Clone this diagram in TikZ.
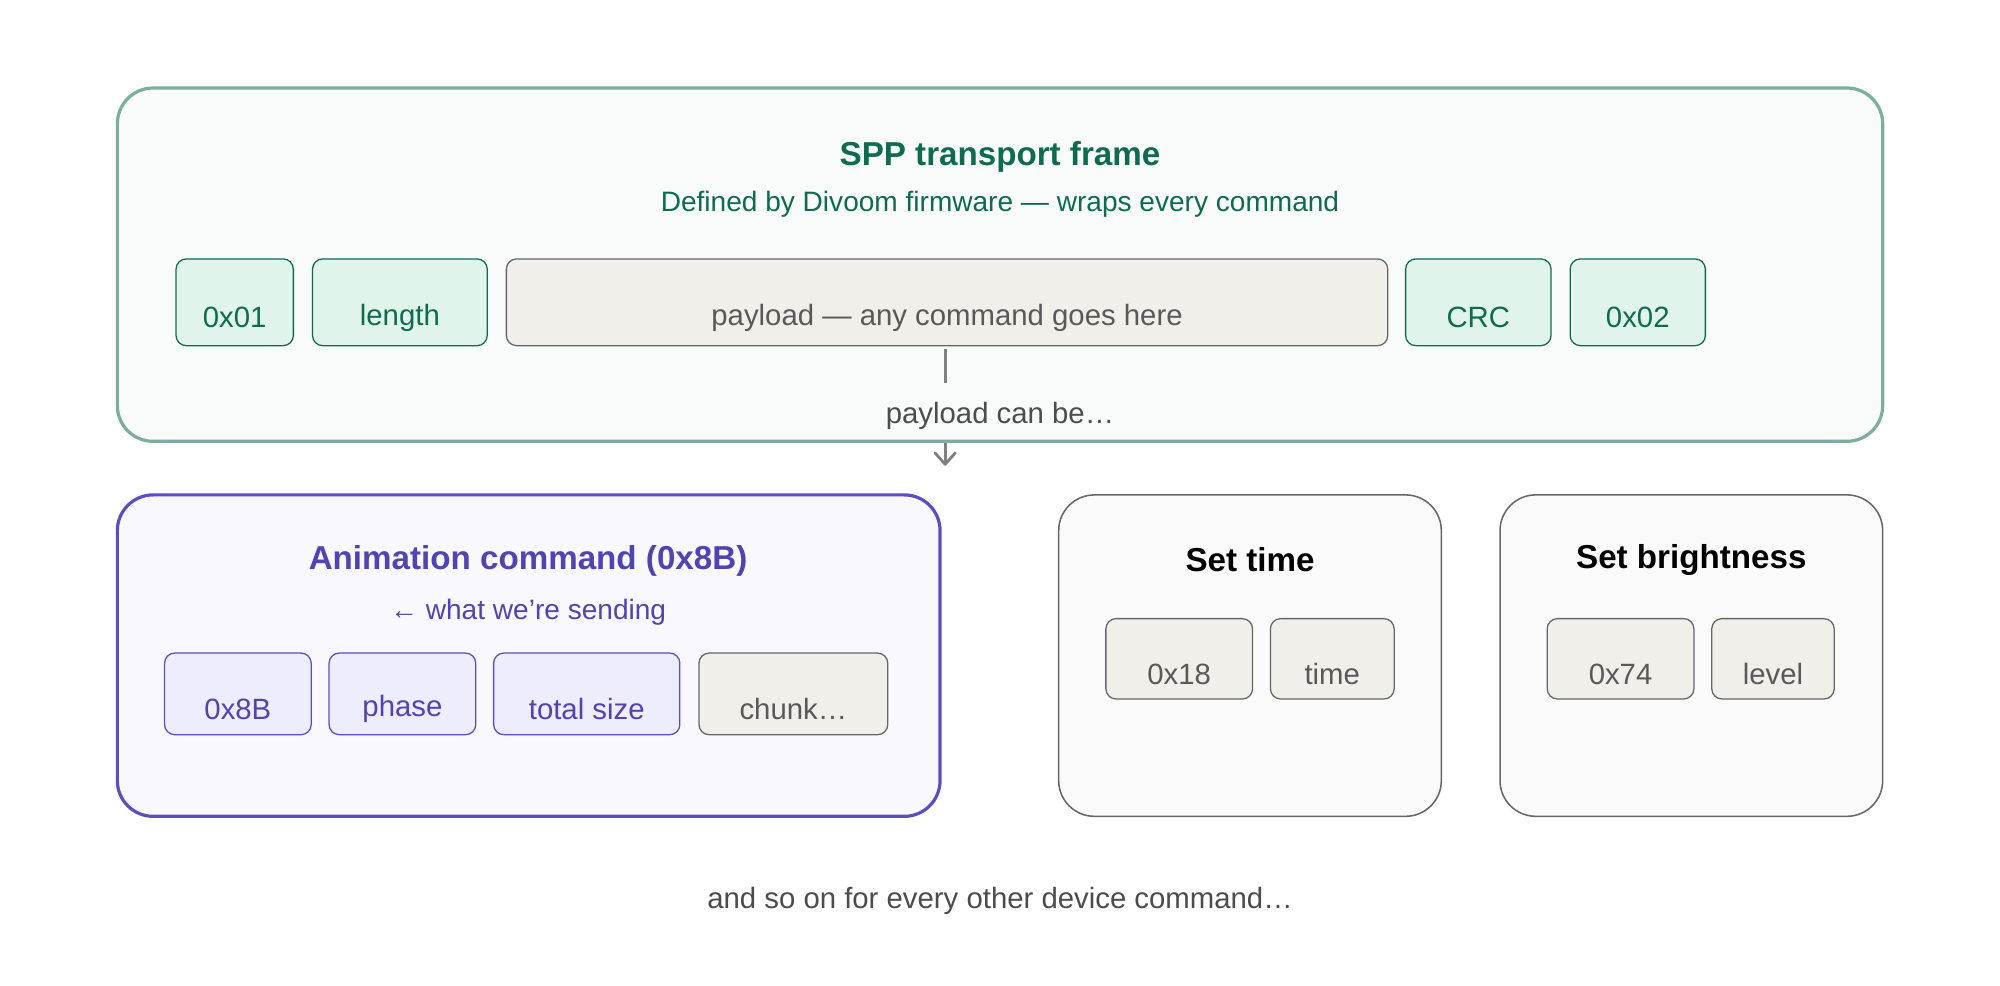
\documentclass[tikz,border=0pt]{standalone}
\usepackage{fontspec}
\setmainfont{Liberation Sans}
\begin{document}
\begin{tikzpicture}[x=1pt,y=-1pt,
  big/.style={rounded corners=28pt,line width=2.5pt},
  cell/.style={rounded corners=8pt,line width=1pt},
  gcell/.style={cell,draw=gtext,fill=gfill},
  pcell/.style={cell,draw=pstroke,fill=pfill},
  ncell/.style={cell,draw=black!60,fill=nfill},
  lab/.style={font=\fontsize{23}{28}\selectfont},
  sub/.style={font=\fontsize{22}{27}\selectfont},
  ttl/.style={font=\bfseries\fontsize{26}{32}\selectfont},
  ]
\definecolor{gfill}{HTML}{E1F4EC}
\definecolor{gtext}{HTML}{0F6B4F}
\definecolor{pfill}{HTML}{EEEDFD}
\definecolor{pstroke}{HTML}{5B4FBF}
\definecolor{ptext}{HTML}{4F44B0}
\definecolor{nfill}{HTML}{F0EFEA}
\useasboundingbox[fill=white] (0,0) rectangle (1568,773);
% SPP frame
\draw[big,draw=gtext!55,fill=gtext!3] (92,69) rectangle (1476,346);
\node[text=gtext,ttl] (t1) at (784,123) {SPP transport frame};
\node[text=gtext,sub] (s1) at (784,160) {Defined by Divoom firmware — wraps every command};
\draw[gcell] (138,203) rectangle (230,271) node[midway,yshift=-12pt,text=gtext,lab] (a1) {0x01};
\draw[gcell] (245,203) rectangle (382,271) node[midway,yshift=-12pt,text=gtext,lab] (a2) {length};
\draw[ncell] (397,203) rectangle (1088,271) node[midway,yshift=-12pt,text=black!65,lab] (a3) {payload — any command goes here};
\draw[gcell] (1102,203) rectangle (1216,271) node[midway,yshift=-12pt,text=gtext,lab] (a4) {CRC};
\draw[gcell] (1231,203) rectangle (1337,271) node[midway,yshift=-12pt,text=gtext,lab] (a5) {0x02};
\coordinate (p1) at (741,274);
\coordinate (p2) at (741,300);
\coordinate (p3) at (741,347);
\coordinate (p4) at (741,364);
\draw[black!50,line width=2.2pt] (p1) -- (p2);
\node[text=black!70,lab] (pc) at (784,326) {payload can be…};
\draw[black!50,line width=2.2pt] (p3) -- (p4);
\draw[black!50,line width=2.2pt,line cap=round,line join=round] (733,355) -- (p4) -- (749,355);
% Animation
\draw[big,draw=pstroke,fill=pfill!40] (92,388) rectangle (737,640);
\node[text=ptext,ttl] (t2) at (414,440) {Animation command (0x8B)};
\node[text=ptext,sub] (s2) at (414,480) {← what we\char"27 re sending};
\draw[pcell] (129,512) rectangle (244,576) node[midway,yshift=-12pt,text=ptext,lab] {0x8B};
\draw[pcell] (258,512) rectangle (373,576) node[midway,yshift=-12pt,text=ptext,lab] {phase};
\draw[pcell] (387,512) rectangle (533,576) node[midway,yshift=-12pt,text=ptext,lab] {total size};
\draw[ncell] (548,512) rectangle (696,576) node[midway,yshift=-12pt,text=black!65,lab] {chunk…};
% Set time
\draw[rounded corners=28pt,line width=1.2pt,draw=black!60,fill=black!2] (830,388) rectangle (1130,640);
\node[ttl] (t3) at (980,439) {Set time};
\draw[ncell] (867,485) rectangle (982,548) node[midway,yshift=-12pt,text=black!65,lab] {0x18};
\draw[ncell] (996,485) rectangle (1093,548) node[midway,yshift=-12pt,text=black!65,lab] {time};
% Set brightness
\draw[rounded corners=28pt,line width=1.2pt,draw=black!60,fill=black!2] (1176,388) rectangle (1476,640);
\node[ttl] (t4) at (1326,439) {Set brightness};
\draw[ncell] (1213,485) rectangle (1328,548) node[midway,yshift=-12pt,text=black!65,lab] {0x74};
\draw[ncell] (1342,485) rectangle (1438,548) node[midway,yshift=-12pt,text=black!65,lab] {level};
\node[text=black!70,lab] (bt) at (784,706) {and so on for every other device command…};
\end{tikzpicture}
\end{document}
